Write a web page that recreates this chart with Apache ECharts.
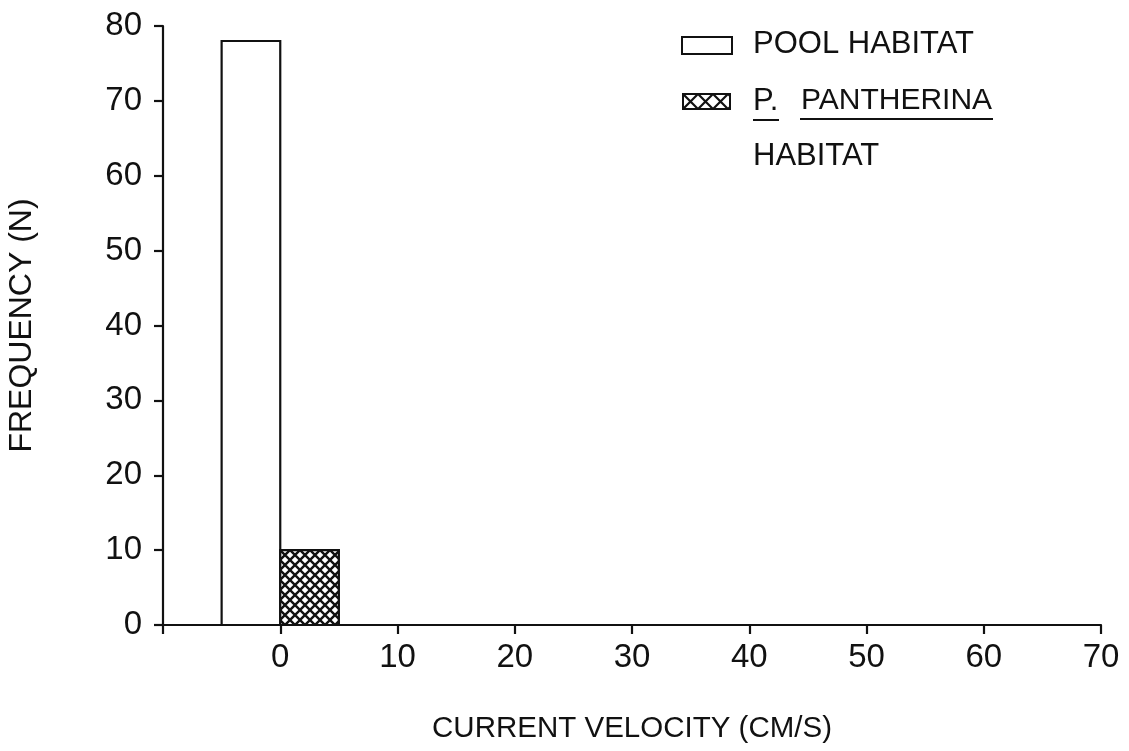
<!DOCTYPE html>
<html>
<head>
<meta charset="utf-8">
<script src="https://cdn.jsdelivr.net/npm/echarts@6/dist/echarts.min.js"></script>
<style>
  html, body { margin: 0; padding: 0; background: #fff; }
  #chart { width: 1129px; height: 751px; }
</style>
</head>
<body>
<div id="chart"></div>
<script>
// Histogram bins: [start, end] in cm/s, with frequency counts
const poolBins = [[-5, 0]];
const poolFreq = [78];
const pantherinaBins = [[0, 5]];
const pantherinaFreq = [10];

// Axis ticks
const xTickValues = [-10, 0, 10, 20, 30, 40, 50, 60, 70];
const xTickLabels = ['', '0', '10', '20', '30', '40', '50', '60', '70'];
const yTickLabels = ['0', '10', '20', '30', '40', '50', '60', '70', '80'];

const legendNames = ['POOL HABITAT', 'P. PANTHERINA HABITAT'];

const FONT = '"Liberation Sans", Arial, sans-serif';
const INK = '#111';

// Cross-hatch fill pattern
function makeHatch(period, width) {
  const c = document.createElement('canvas');
  c.width = period; c.height = period;
  const g = c.getContext('2d');
  g.fillStyle = '#fff';
  g.fillRect(0, 0, period, period);
  g.strokeStyle = INK;
  g.lineWidth = width;
  g.beginPath();
  g.moveTo(-1, -1); g.lineTo(period + 1, period + 1);
  g.moveTo(period + 1, -1); g.lineTo(-1, period + 1);
  g.stroke();
  return c;
}
const hatch = { image: makeHatch(10, 2.4), repeat: 'repeat' };
const hatchSmall = { image: makeHatch(15, 2.2), repeat: 'repeat' };

function toData(bins, freq) {
  return bins.map((b, i) => [b[0], b[1], freq[i]]);
}

function renderBin(fill) {
  return function (params, api) {
    const p0 = api.coord([api.value(0), api.value(2)]);
    const p1 = api.coord([api.value(1), 0]);
    return {
      type: 'rect',
      shape: { x: p0[0], y: p0[1], width: p1[0] - p0[0], height: p1[1] - p0[1] },
      style: { fill: fill, stroke: INK, lineWidth: 2.2 }
    };
  };
}

const chart = echarts.init(document.getElementById('chart'), null, { renderer: 'canvas' });

const axisCommon = {
  axisLine: { show: true, onZero: false, lineStyle: { color: INK, width: 2.2 } },
  axisTick: { show: true, inside: false, length: 9, lineStyle: { color: INK, width: 2.2 } },
  splitLine: { show: false }
};

chart.setOption({
  backgroundColor: '#fff',
  animation: false,
  grid: { left: 163, right: 28, top: 26, bottom: 126, containLabel: false, outerBoundsMode: 'none' },
  xAxis: Object.assign({}, axisCommon, {
    type: 'value', min: -10, max: 70, interval: 10,
    name: 'CURRENT VELOCITY (CM/S)', nameLocation: 'middle', nameGap: 89,
    nameTextStyle: { color: INK, fontFamily: FONT, fontSize: 29.5 },
    axisLabel: {
      color: INK, fontFamily: FONT, fontSize: 33, margin: 16,
      formatter: v => xTickLabels[xTickValues.indexOf(v)] || ''
    }
  }),
  yAxis: Object.assign({}, axisCommon, {
    type: 'value', min: 0, max: 80, interval: 10,
    name: 'FREQUENCY (N)', nameLocation: 'middle', nameGap: 125,
    nameTextStyle: { color: INK, fontFamily: FONT, fontSize: 32 },
    axisLabel: {
      color: INK, fontFamily: FONT, fontSize: 33, margin: 21,
      formatter: v => yTickLabels[v / 10]
    }
  }),
  series: [
    {
      name: legendNames[0], type: 'custom',
      data: toData(poolBins, poolFreq),
      encode: { x: [0, 1], y: 2 },
      renderItem: renderBin('#fff'), z: 2
    },
    {
      name: legendNames[1], type: 'custom',
      data: toData(pantherinaBins, pantherinaFreq),
      encode: { x: [0, 1], y: 2 },
      renderItem: renderBin(hatch), z: 2
    }
  ],
  graphic: [
    // legend key: pool habitat
    { type: 'rect', left: 681, top: 36, shape: { width: 50, height: 17 },
      style: { fill: '#fff', stroke: INK, lineWidth: 2 } },
    { type: 'text', left: 753, top: 29,
      style: { text: 'POOL HABITAT', fill: INK, font: '31px ' + FONT } },
    // legend key: P. pantherina habitat (species name underlined)
    { type: 'rect', left: 682, top: 93, shape: { width: 47, height: 15 },
      style: { fill: hatchSmall, stroke: INK, lineWidth: 2 } },
    { type: 'text', left: 753, top: 86,
      style: { text: 'P.', fill: INK, font: '31px ' + FONT } },
    { type: 'text', left: 801, top: 86,
      style: { text: 'PANTHERINA', fill: INK, font: '30px ' + FONT } },
    { type: 'line', shape: { x1: 753, y1: 120, x2: 779, y2: 120 },
      style: { stroke: INK, lineWidth: 2 } },
    { type: 'line', shape: { x1: 800, y1: 119, x2: 993, y2: 119 },
      style: { stroke: INK, lineWidth: 2 } },
    { type: 'text', left: 753, top: 141,
      style: { text: 'HABITAT', fill: INK, font: '31px ' + FONT } }
  ]
});
</script>
</body>
</html>
